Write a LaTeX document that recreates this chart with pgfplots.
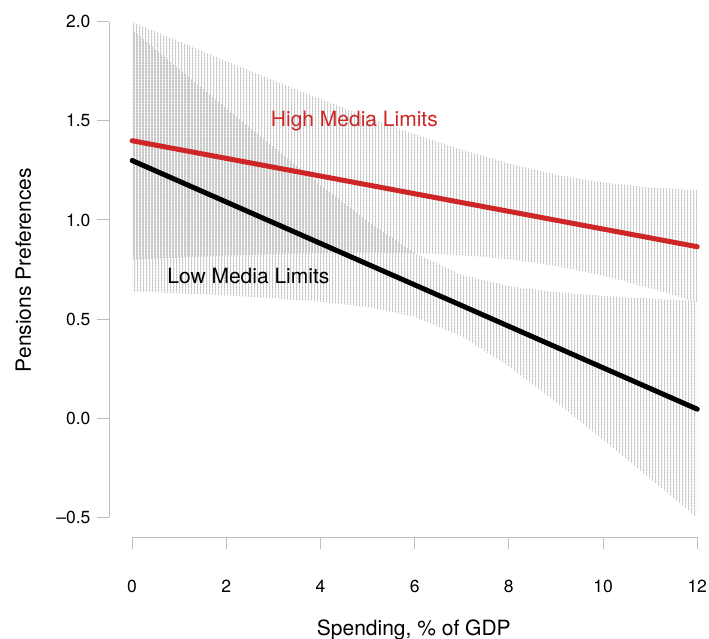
\documentclass[border=0pt]{standalone}
\usepackage{fontspec}
\setmainfont{TeX Gyre Heros}
\usepackage{pgfplots}
\pgfplotsset{compat=1.18}
\usetikzlibrary{patterns.meta}
\definecolor{bandgray}{RGB}{198,198,198}
\definecolor{axisgray}{RGB}{190,190,190}
\definecolor{hired}{RGB}{205,38,38}
\begin{document}
\begin{tikzpicture}
\useasboundingbox (0,0) rectangle (709bp,639bp);
\begin{axis}[
  at={(109bp,102bp)}, anchor=south west,
  scale only axis, width=600bp, height=535bp,
  xmin=-0.49, xmax=12.25, ymin=-0.6, ymax=2.1,
  clip=false,
  axis line style={draw=none},
  xtick={0,2,4,6,8,10,12},
  xticklabels={0,2,4,6,8,10,12},
  ytick={-0.5,0,0.5,1,1.5,2},
  yticklabels={–0.5,0.0,0.5,1.0,1.5,2.0},
  xtick pos=bottom, ytick pos=left,
  tick align=outside,
  major tick length=12bp,
  tick style={draw=axisgray, line width=1bp},
  every tick label/.append style={font=\fontsize{17.5bp}{21bp}\selectfont},
  yticklabel style={anchor=east, xshift=-3bp},
  xticklabel style={anchor=north, yshift=-28bp},
  xlabel={Spending, \% of GDP},
  ylabel={Pensions Preferences},
  label style={font=\fontsize{21bp}{25bp}\selectfont},
  xlabel style={at={(axis description cs:0.508,-0.185)}, anchor=base},
  ylabel style={at={(axis description cs:-0.13,0.499)}, anchor=base},
]
% High media limits confidence band
\addplot[draw=none, pattern={Lines[angle=90, distance=2.83bp, line width=0.95bp]}, pattern color=bandgray, forget plot]
coordinates {
(0,2.000) (1,1.900) (2,1.802) (3,1.705) (4,1.611) (5,1.519) (6,1.433) (7,1.354) (8,1.285) (9,1.229) (10,1.189) (11,1.164) (12,1.151)
(12,0.585) (11,0.655) (10,0.719) (9,0.768) (8,0.802) (7,0.822) (6,0.832) (5,0.835) (4,0.833) (3,0.828) (2,0.820) (1,0.810) (0,0.800)
} -- cycle;
% Low media limits confidence band
\addplot[draw=none, pattern={Lines[angle=90, distance=2.83bp, line width=0.95bp, xshift=1.41bp]}, pattern color=bandgray, forget plot]
coordinates {
(0,1.960) (1,1.761) (2,1.563) (3,1.368) (4,1.176) (5,0.993) (6,0.833) (7,0.723) (8,0.666) (9,0.636) (10,0.617) (11,0.603) (12,0.592)
(12,-0.502) (11,-0.305) (10,-0.109) (9,0.081) (8,0.261) (7,0.413) (6,0.511) (5,0.561) (4,0.587) (3,0.605) (2,0.619) (1,0.630) (0,0.640)
} -- cycle;
% fitted lines
\addplot[hired, line width=5bp, line cap=round] coordinates {(0,1.400) (12,0.865)};
\addplot[black, line width=5bp, line cap=round] coordinates {(0,1.300) (12,0.045)};
% axis lines
\draw[axisgray, line width=1bp] (axis cs:-0.49,-0.5) -- (axis cs:-0.49,2);
\draw[axisgray, line width=1bp] (axis cs:0,-0.6) -- (axis cs:12,-0.6);
% annotations
\node[hired, anchor=base, font=\fontsize{21bp}{25bp}\selectfont] at (axis cs:4.72,1.47) {High Media Limits};
\node[black, anchor=base, font=\fontsize{21bp}{25bp}\selectfont] at (axis cs:2.47,0.677) {Low Media Limits};
\end{axis}
\end{tikzpicture}
\end{document}
